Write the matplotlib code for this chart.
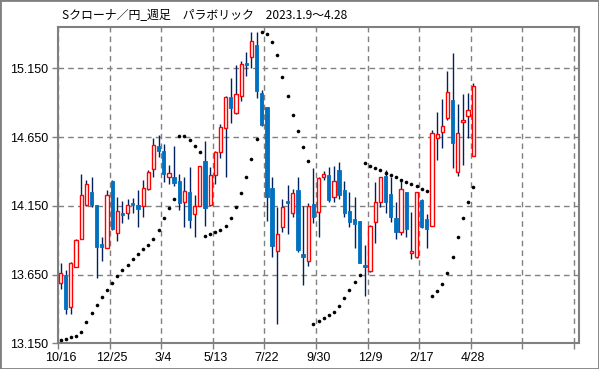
import matplotlib
matplotlib.use("Agg")
import matplotlib.pyplot as plt
from matplotlib.patches import Rectangle
import numpy as np

# ---- data (weekly candles) ----
opens = [13.591, 13.647, 13.412, 13.703, 13.906, 14.156, 14.249, 14.156, 13.872, 13.840,
         14.332, 13.950, 14.100, 14.100, 14.173, 14.158, 14.149, 14.270, 14.415, 14.585,
         14.550, 14.357, 14.360, 14.330, 14.180, 14.253, 14.088, 14.151, 14.476, 14.156,
         14.374, 14.539, 14.714, 14.939, 14.823, 14.951, 15.190, 15.235, 15.319, 14.968,
         14.869, 14.277, 13.821, 13.994, 14.185, 14.100, 14.265, 13.799, 13.751, 14.163,
         14.107, 14.362, 14.374, 14.216, 14.410, 14.265, 14.112, 14.054, 14.039, 13.719,
         13.678, 14.034, 14.180, 14.367, 14.236, 14.059, 13.957, 14.248, 13.805, 13.775,
         14.192, 14.054, 14.005, 14.641, 14.689, 14.786, 14.919, 14.394, 14.757, 14.805,
         14.514]
highs = [13.732, 13.683, 13.741, 13.906, 14.378, 14.335, 14.360, 14.156, 13.925, 14.265,
         14.338, 14.214, 14.187, 14.197, 14.204, 14.265, 14.338, 14.410, 14.641, 14.664,
         14.598, 14.450, 14.585, 14.380, 14.357, 14.434, 14.229, 14.440, 14.620, 14.434,
         14.550, 14.745, 14.950, 15.077, 15.172, 15.205, 15.266, 15.415, 15.415, 14.990,
         14.869, 14.357, 14.139, 14.197, 14.301, 14.270, 14.357, 14.151, 14.168, 14.423,
         14.360, 14.403, 14.434, 14.439, 14.466, 14.330, 14.248, 14.216, 14.040, 13.865,
         14.010, 14.321, 14.362, 14.410, 14.362, 14.180, 14.343, 14.250, 14.107, 14.250,
         14.199, 14.090, 14.701, 14.835, 14.925, 15.130, 15.259, 14.889, 14.961, 14.968,
         15.045]
lows = [13.547, 13.363, 13.363, 13.703, 13.906, 14.145, 14.143, 13.628, 13.751, 13.840,
        13.972, 13.896, 14.023, 14.056, 14.100, 13.994, 14.071, 14.268, 14.357, 14.508,
        14.320, 14.305, 14.291, 14.119, 13.998, 13.986, 13.925, 14.151, 14.000, 14.150,
        14.305, 14.500, 14.357, 14.754, 14.820, 14.912, 15.096, 15.150, 14.936, 14.730,
        14.042, 13.775, 13.288, 13.957, 13.943, 14.071, 13.816, 13.574, 13.714, 14.023,
        13.925, 14.338, 14.180, 14.180, 14.200, 14.071, 13.998, 13.841, 13.736, 13.494,
        13.670, 13.877, 14.139, 14.095, 14.034, 13.908, 13.938, 13.925, 13.765, 13.770,
        13.986, 13.845, 14.000, 14.485, 14.568, 14.774, 14.423, 14.369, 14.447, 14.645,
        14.510]
closes = [13.659, 13.397, 13.732, 13.901, 14.229, 14.309, 14.156, 13.847, 13.853, 14.229,
          13.979, 14.111, 14.085, 14.154, 14.158, 14.129, 14.277, 14.394, 14.591, 14.551,
          14.379, 14.386, 14.318, 14.173, 14.258, 14.047, 14.149, 14.439, 14.132, 14.374,
          14.539, 14.721, 14.939, 14.864, 14.962, 15.180, 15.176, 15.347, 14.986, 14.738,
          14.212, 13.860, 13.943, 14.139, 14.168, 14.241, 13.829, 13.780, 14.149, 14.071,
          14.350, 14.381, 14.192, 14.328, 14.229, 14.095, 14.034, 14.018, 13.736, 13.707,
          14.003, 14.175, 14.357, 14.180, 14.071, 13.957, 14.270, 13.979, 13.821, 14.248,
          13.994, 13.981, 14.677, 14.670, 14.730, 14.975, 14.609, 14.677, 14.774, 14.847,
          15.021]
sar = [13.172, 13.184, 13.194, 13.206, 13.230, 13.303, 13.368, 13.426, 13.487, 13.538,
       13.586, 13.637, 13.681, 13.717, 13.761, 13.797, 13.834, 13.865, 13.906, 13.976,
       14.059, 14.132, 14.197, 14.660, 14.655, 14.629, 14.587, 14.539, 13.928, 13.943,
       13.959, 13.972, 14.001, 14.059, 14.141, 14.241, 14.357, 14.488, 14.636, 15.412,
       15.397, 15.339, 15.245, 15.089, 14.946, 14.813, 14.692, 14.575, 14.474, 13.288,
       13.310, 13.332, 13.354, 13.375, 13.419, 13.477, 13.535, 13.594, 13.645, 14.463,
       14.442, 14.427, 14.408, 14.391, 14.372, 14.357, 14.335, 14.321, 14.309, 14.294,
       14.270, 14.255, 13.496, 13.528, 13.579, 13.659, 13.775, 13.921, 14.059, 14.175,
       14.284]
x_labels = ["10/16", "12/25", "3/4", "5/13", "7/22", "9/30", "12/9", "2/17", "4/28"]
y_ticks = [13.150, 13.650, 14.150, 14.650, 15.150]
title = "Sクローナ／円_週足　パラボリック　2023.1.9～4.28"

# ---- figure ----
W, H = 599, 369
fig = plt.figure(figsize=(W / 100, H / 100), dpi=100)
ax = fig.add_axes([58 / W, (H - 343.3) / H, (579 - 58) / W, (343.3 - 27) / H])

o = np.array(opens); h = np.array(highs); l = np.array(lows); c = np.array(closes)
x = np.arange(len(o))
up = c >= o

ax.vlines(x, l, h, color="#002060", lw=1.0, zorder=3)
ax.bar(x[up], (c - o)[up], bottom=o[up], width=0.62, facecolor="white",
       edgecolor="#ff0000", lw=1.0, zorder=4)
ax.bar(x[~up], (o - c)[~up], bottom=c[~up], width=0.64, facecolor="#0070c0",
       edgecolor="#0070c0", lw=0.6, zorder=4)
ax.plot(x, sar, "o", color="black", ms=2.6, zorder=5, mec="black", mew=0)

ax.set_xlim(-0.5, 100.5)
ax.set_ylim(13.15, 15.45)
# gridlines at week-slot boundaries (minor ticks), labels at candle centres (major)
ax.set_xticks(np.arange(11) * 10 - 0.5, minor=True)
ax.set_xticks(np.arange(len(x_labels)) * 10)
ax.set_xticklabels(x_labels)
ax.set_yticks(y_ticks)
ax.set_yticklabels([f"{v:.3f}" for v in y_ticks])
ax.grid(True, which="minor", axis="x", color="#808080", ls=(0, (4, 3)), lw=1.0, zorder=1)
ax.grid(True, which="major", axis="y", color="#808080", ls=(0, (4, 3)), lw=1.0, zorder=1)
ax.grid(False, which="major", axis="x")
ax.set_axisbelow(True)
for s in ax.spines.values():
    s.set_color("#808080")
    s.set_linewidth(1.5)
ax.tick_params(axis="y", colors="#808080", length=4, width=1, labelcolor="black",
               labelsize=9, pad=3)
ax.tick_params(axis="x", which="major", length=0, labelcolor="black", labelsize=9, pad=6)
ax.tick_params(axis="x", which="minor", colors="#808080", length=4, width=1)
for lab in ax.get_xticklabels() + ax.get_yticklabels():
    lab.set_family(["Liberation Sans", "DejaVu Sans"])

fig.text(62 / W, 1 - 15.5 / H, title, fontsize=8.6, va="center", ha="left",
         family=["Noto Sans CJK JP", "DejaVu Sans"], color="black")
fig.patches.append(Rectangle((0, 0), 1, 1, transform=fig.transFigure, fill=False,
                             edgecolor="#808080", lw=2.0))
fig.savefig("out.png", dpi=100)
